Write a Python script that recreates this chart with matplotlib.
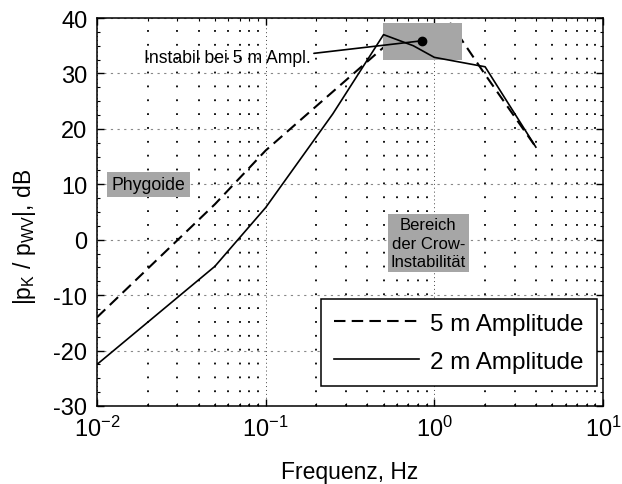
import numpy as np
import matplotlib
matplotlib.use("Agg")
from matplotlib import pyplot as plt
from matplotlib.ticker import MultipleLocator, LogLocator, NullFormatter
from matplotlib.patches import Rectangle

plt.rcParams['font.family'] = ['Liberation Sans', 'DejaVu Sans']
plt.rcParams['mathtext.fontset'] = 'custom'
plt.rcParams['mathtext.rm'] = 'Liberation Sans'
plt.rcParams['mathtext.it'] = 'Liberation Sans:italic'
plt.rcParams['mathtext.bf'] = 'Liberation Sans:bold'
plt.rcParams['axes.unicode_minus'] = False

# 5 m amplitude (dashed)
f5 = [0.01, 0.05, 0.1, 0.25, 0.5, 0.85, 1.25, 2, 4]
db5 = [-14, 6.4, 16.1, 26.7, 34.7, 35.9, 39.0, 29.8, 16.7]
# 2 m amplitude (solid)
f2 = [0.01, 0.05, 0.1, 0.25, 0.5, 0.75, 1, 2, 4]
db2 = [-22.5, -4.8, 5.8, 22.7, 37, 35, 32.9, 31.2, 16.7]
# instability point
f_inst = 0.85
db_inst = 35.9

W, H = 622, 485
fig = plt.figure(figsize=(W / 100, H / 100), dpi=100)
L, R, T, B = 97, 603, 19, 407
ax = fig.add_axes([L / W, (H - B) / H, (R - L) / W, (B - T) / H])

ax.set_xscale('log')
ax.set_xlim(0.01, 10)
ax.set_ylim(-30, 40)
ax.yaxis.set_major_locator(MultipleLocator(10))
ax.yaxis.set_minor_locator(MultipleLocator(2.5))
ax.xaxis.set_minor_locator(LogLocator(base=10, subs=np.arange(2, 10)))
ax.xaxis.set_minor_formatter(NullFormatter())

# grid: gray horizontal, fine vertical majors, dotted vertical minors
ax.grid(which='major', axis='y', color='#888888', lw=0.8, ls=(0, (2, 4)))
ax.grid(which='major', axis='x', color='#444444', lw=0.7, ls=(0, (1, 3)))
lw_dot = 1.3
period = (B - T) * 0.72 / 28
ax.grid(which='minor', axis='x', color='black', lw=lw_dot,
        ls=(0, (1, (period - lw_dot) / lw_dot)))
ax.set_axisbelow(True)

ax.plot(f5, db5, color='black', lw=1.5, ls=(0, (5.5, 3)), label='5 m Amplitude', zorder=2)
ax.add_patch(Rectangle((0.494, 32.5), 1.46 - 0.494, 6.6, facecolor='#a6a6a6',
                       edgecolor='none', zorder=3))
ax.plot(f2, db2, color='black', lw=1.2, label='2 m Amplitude', zorder=4)
ax.plot([f_inst], [db_inst], 'o', color='black', ms=6, zorder=5)

ax.annotate('Instabil bei 5 m Ampl.', xy=(f_inst, db_inst), xytext=(0.0191, 32.8),
            ha='left', va='center', fontsize=12.7, zorder=5,
            arrowprops=dict(arrowstyle='-', lw=1.2, color='black',
                            shrinkA=0, shrinkB=0, relpos=(1.0, 0.75)))

ax.text(0.0122, 10, 'Phygoide', ha='left', va='center', fontsize=12.7, zorder=5,
        bbox=dict(facecolor='#a6a6a6', edgecolor='none', pad=3))
ax.text(0.92, -0.6, 'Bereich\nder Crow-\nInstabilität', ha='center', va='center',
        fontsize=12, linespacing=1.32, zorder=5,
        bbox=dict(facecolor='#a6a6a6', edgecolor='none', pad=2))

ax.tick_params(which='both', direction='in', top=True, right=True,
               labelsize=17, pad=7, color='black')
ax.tick_params(which='major', length=5, width=1)
ax.tick_params(which='minor', length=2.5, width=0.8)
for s in ax.spines.values():
    s.set_linewidth(1.1)

ax.set_xlabel('Frequenz, Hz', fontsize=16.5)
ax.set_ylabel(r'|p$_\mathrm{K}$ / p$_\mathrm{WV}$|, dB', fontsize=16.5)
ax.xaxis.set_label_coords(0.5, -(461 - B) / (B - T))
ax.yaxis.set_label_coords(-(L - 38) / (R - L), (B - 237) / (B - T))

leg = ax.legend(loc='lower right', bbox_to_anchor=((597 - L) / (R - L), (B - 387) / (B - T)),
                borderaxespad=0, fontsize=17.5, handlelength=3.5, handletextpad=0.45,
                labelspacing=0.65, borderpad=0.55, fancybox=False, framealpha=1)
leg.get_frame().set_edgecolor('black')
leg.get_frame().set_linewidth(1.1)
leg.set_zorder(6)

plt.savefig('out.png', dpi=100)
